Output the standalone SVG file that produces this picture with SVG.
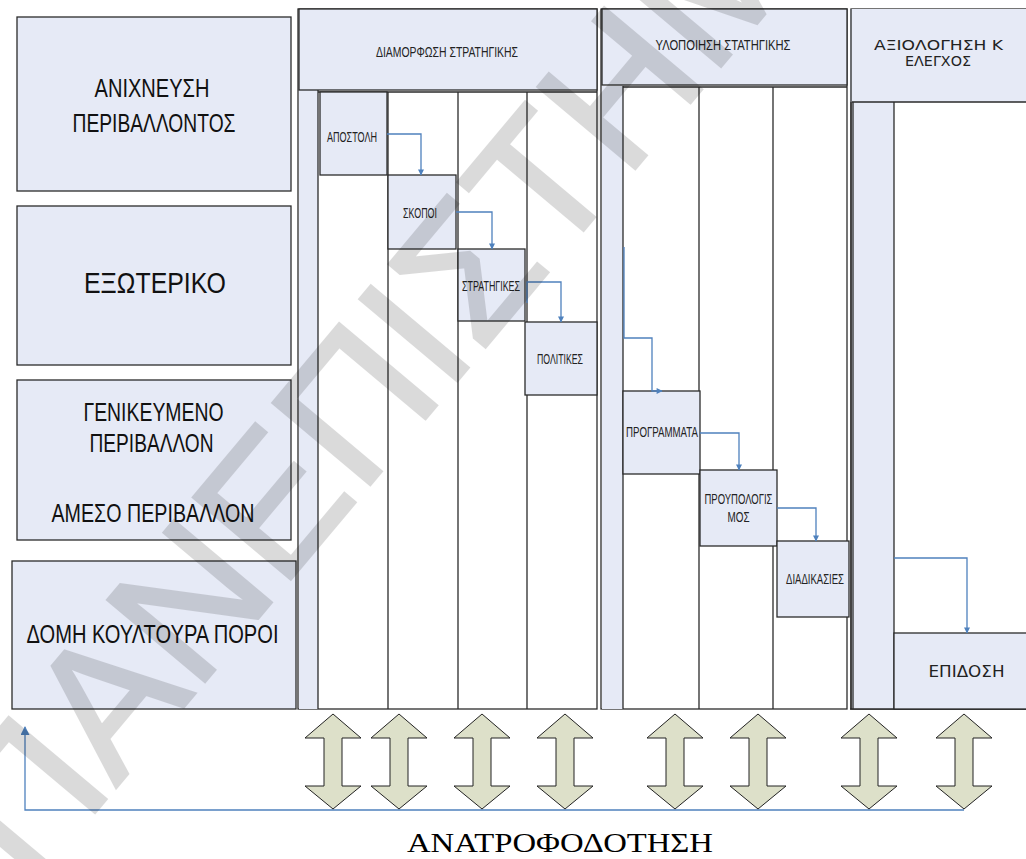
<svg xmlns="http://www.w3.org/2000/svg" width="1026" height="859" viewBox="0 0 1026 859">
<style>
.bg{fill:#ffffff}
.box{fill:#e6eaf6;stroke:#2b2b2b;stroke-width:1.3}
.fr{fill:#ffffff;stroke:#2b2b2b;stroke-width:1.3}
.col{fill:#e6eaf6;stroke:none}
.ln{stroke:#2b2b2b;stroke-width:1.3;fill:none}
.big{font-family:"Liberation Sans",Arial,sans-serif;font-size:26px;fill:#111;text-anchor:middle}
.sm{font-family:"Liberation Sans",Arial,sans-serif;font-size:14px;fill:#222;text-anchor:middle}
.wd{font-family:"DejaVu Sans",Verdana,sans-serif;font-size:14px;fill:#222;text-anchor:middle}
.con{fill:none;stroke:#4f81bd;stroke-width:1.3}
.dbl{fill:#dde0c9;stroke:#222;stroke-width:1}
</style>
<defs>
<marker id="ah" viewBox="0 0 10 10" refX="9" refY="5" markerUnits="userSpaceOnUse" markerWidth="7" markerHeight="6" orient="auto"><path d="M0,0 L10,5 L0,10 z" fill="#4f81bd"/></marker>
<marker id="ahb" viewBox="0 0 10 10" refX="9" refY="5" markerUnits="userSpaceOnUse" markerWidth="10" markerHeight="9" orient="auto"><path d="M0,0 L10,5 L0,10 z" fill="#4f81bd"/></marker>
<polygon id="da" points="0,0 28,24 9,24 9,72 28,72 0,95 -28,72 -9,72 -9,24 -28,24"/>
</defs>
<rect class="bg" x="0" y="0" width="1026" height="859"/>

<g id="n-anixneusi"><rect class="box" x="17" y="17" width="274" height="174"/>
<text class="big" x="152" y="97" textLength="115" lengthAdjust="spacingAndGlyphs">ΑΝΙΧΝΕΥΣΗ</text>
<text class="big" x="154" y="132" textLength="163" lengthAdjust="spacingAndGlyphs">ΠΕΡΙΒΑΛΛΟΝΤΟΣ</text></g>
<g id="n-exoteriko"><rect class="box" x="17" y="206" width="274" height="159"/>
<text class="big" x="155" y="293" style="font-size:29px" textLength="142" lengthAdjust="spacingAndGlyphs">ΕΞΩΤΕΡΙΚΟ</text></g>
<g id="n-geniko"><rect class="box" x="17" y="380" width="274" height="160"/>
<text class="big" x="153.5" y="421" textLength="140" lengthAdjust="spacingAndGlyphs">ΓΕΝΙΚΕΥΜΕΝΟ</text>
<text class="big" x="151.5" y="452" textLength="124" lengthAdjust="spacingAndGlyphs">ΠΕΡΙΒΑΛΛΟΝ</text>
<text class="big" x="153" y="522" textLength="203" lengthAdjust="spacingAndGlyphs">ΑΜΕΣΟ ΠΕΡΙΒΑΛΛΟΝ</text></g>
<g id="n-domi"><rect class="box" x="12" y="561" width="284" height="148"/>
<text class="big" x="152.5" y="643" textLength="252" lengthAdjust="spacingAndGlyphs">ΔΟΜΗ ΚΟΥΛΤΟΥΡΑ ΠΟΡΟΙ</text></g>

<g id="s-diamorfosi">
<rect class="fr" x="298" y="9" width="299" height="700"/>
<rect class="col" x="299" y="90" width="19" height="619"/>
<path class="ln" d="M318,90 V709 M388,92 V709 M458,92 V709 M527,92 V709 M318,92 H597"/>
<rect class="box" x="299" y="9" width="298" height="81"/>
<text class="sm" x="447" y="56.5" textLength="142" lengthAdjust="spacingAndGlyphs">ΔΙΑΜΟΡΦΩΣΗ ΣΤΡΑΤΗΓΙΚΗΣ</text>
</g>
<g id="n-apostoli"><rect class="box" x="320" y="92" width="67" height="83"/>
<text class="sm" x="352" y="141.5" textLength="50" lengthAdjust="spacingAndGlyphs">ΑΠΟΣΤΟΛΗ</text></g>
<g id="n-skopoi"><rect class="box" x="388" y="175" width="68" height="74"/>
<text class="sm" x="420" y="217.5" textLength="34" lengthAdjust="spacingAndGlyphs">ΣΚΟΠΟΙ</text></g>
<g id="n-stratigikes"><rect class="box" x="458" y="249" width="67" height="72"/>
<text class="sm" x="491" y="291" textLength="58" lengthAdjust="spacingAndGlyphs">ΣΤΡΑΤΗΓΙΚΕΣ</text></g>
<g id="n-politikes"><rect class="box" x="525" y="322" width="72" height="73"/>
<text class="sm" x="560" y="364" textLength="46" lengthAdjust="spacingAndGlyphs">ΠΟΛΙΤΙΚΕΣ</text></g>

<g id="s-ylopoiisi">
<rect class="fr" x="601" y="9" width="246" height="700"/>
<rect class="col" x="602" y="86" width="21" height="623"/>
<path class="ln" d="M623,86 V709 M699,87 V709 M773,87 V709 M623,87 H847"/>
<rect class="box" x="602" y="9" width="245" height="76"/>
<text class="sm" x="723" y="50" textLength="135" lengthAdjust="spacingAndGlyphs">ΥΛΟΠΟΙΗΣΗ ΣΤΑΤΗΓΙΚΗΣ</text>
</g>
<g id="n-programmata"><rect class="box" x="623" y="391" width="77" height="83"/>
<text class="sm" x="662" y="437" textLength="72" lengthAdjust="spacingAndGlyphs">ΠΡΟΓΡΑΜΜΑΤΑ</text></g>
<g id="n-proypologismos"><rect class="box" x="700" y="470" width="77" height="76"/>
<text class="sm" x="738.5" y="504" textLength="68" lengthAdjust="spacingAndGlyphs">ΠΡΟΥΠΟΛΟΓΙΣ</text>
<text class="sm" x="738.5" y="521.5" textLength="22" lengthAdjust="spacingAndGlyphs">ΜΟΣ</text></g>
<g id="n-diadikasies"><rect class="box" x="777" y="541" width="72" height="76"/>
<text class="sm" x="815" y="584" textLength="58" lengthAdjust="spacingAndGlyphs">ΔΙΑΔΙΚΑΣΙΕΣ</text></g>

<g id="s-axiologisi">
<rect class="fr" x="851" y="9" width="185" height="700"/>
<rect x="850" y="9" width="180" height="93" fill="#e6eaf6"/>
<rect class="col" x="852" y="102" width="42" height="607"/>
<path class="ln" d="M851,9 V709 M853,102 V709 M894,102 V709 M852,102 H1026 M850,709 H1026"/>
<text class="wd" x="938.5" y="49.5" textLength="129" lengthAdjust="spacingAndGlyphs">ΑΞΙΟΛΟΓΗΣΗ Κ</text>
<text class="wd" x="938" y="66" textLength="66" lengthAdjust="spacingAndGlyphs">ΕΛΕΓΧΟΣ</text>
</g>
<g id="n-epidosi"><rect class="box" x="894" y="633" width="140" height="76"/>
<text class="wd" x="966.5" y="677" style="font-size:15px" textLength="76" lengthAdjust="spacingAndGlyphs">ΕΠΙΔΟΣΗ</text></g>

<g id="connectors">
<path class="con" marker-end="url(#ah)" d="M387,134 H421 V175"/>
<path class="con" marker-end="url(#ah)" d="M456,212 H492 V249"/>
<path class="con" marker-end="url(#ah)" d="M527,303 V282 H561 V322"/>
<path class="con" marker-end="url(#ah)" d="M624,247 V338 H652 V391 H662"/>
<path class="con" marker-end="url(#ah)" d="M700,433 H739 V470"/>
<path class="con" marker-end="url(#ah)" d="M777,508 H816 V541"/>
<path class="con" marker-end="url(#ah)" d="M894,558 H967 V633"/>
<path class="con" marker-end="url(#ahb)" d="M964,810 H25 V727"/>
</g>

<g id="double-arrows">
<use href="#da" class="dbl" x="333" y="714"/>
<use href="#da" class="dbl" x="399" y="714"/>
<use href="#da" class="dbl" x="482" y="714"/>
<use href="#da" class="dbl" x="565" y="714"/>
<use href="#da" class="dbl" x="675" y="714"/>
<use href="#da" class="dbl" x="758" y="714"/>
<use href="#da" class="dbl" x="869" y="714"/>
<use href="#da" class="dbl" x="964" y="714"/>
</g>

<text x="560" y="852" font-family="Liberation Serif, Times New Roman, serif" font-size="28" fill="#000" text-anchor="middle" textLength="306" lengthAdjust="spacingAndGlyphs">ΑΝΑΤΡΟΦΟΔΟΤΗΣΗ</text>

<g id="watermark" opacity="0.14">
<text x="30" y="890" transform="rotate(-50 30 890)" font-family="Liberation Sans, Arial, sans-serif" font-size="185" fill="#000" stroke="#000" stroke-width="3">ΠΑΝΕΠΙΣΤΗΜΙΟ</text>
</g>
</svg>
